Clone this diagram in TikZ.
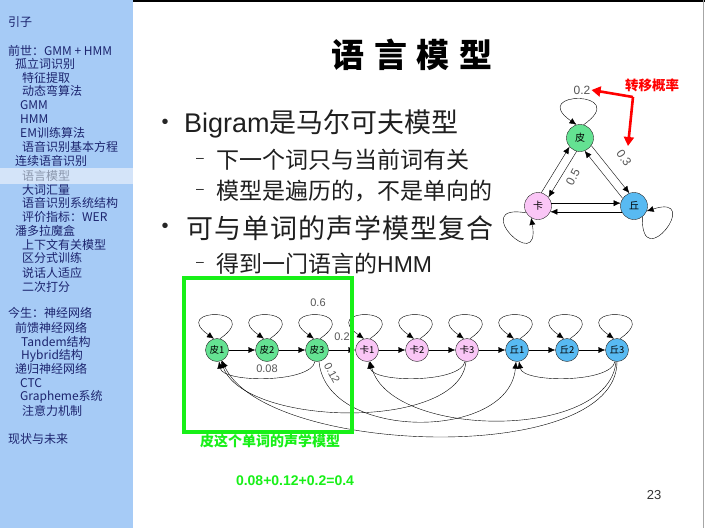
\documentclass[tikz,border=0pt]{standalone}
\usepackage{fontspec}
\setmainfont{Noto Sans CJK SC}
\newfontfamily\arialfont{Liberation Sans}
\usepackage{tikz}
\usetikzlibrary{arrows.meta, positioning}

\definecolor{sideblue}{RGB}{166,203,246}
\definecolor{sidehl}{RGB}{212,228,249}
\definecolor{sidetext}{RGB}{28,36,110}
\definecolor{hltext}{RGB}{138,150,172}
\definecolor{pigreen}{RGB}{100,226,146}
\definecolor{kapink}{RGB}{250,198,246}
\definecolor{qiublue}{RGB}{88,186,242}
\definecolor{boxgreen}{RGB}{24,240,24}
\definecolor{probgray}{RGB}{85,85,85}

\tikzset{
  side/.style={anchor=west, inner sep=0pt, text=sidetext, font=\fontsize{12}{12}\selectfont},
  state/.style={circle, draw=black!85, minimum size=23pt, inner sep=0pt, font=\fontsize{9.5}{9.5}\selectfont},
  word/.style={circle, draw=black!85, minimum size=27pt, inner sep=0pt, font=\fontsize{10}{10}\selectfont},
  prob/.style={inner sep=1pt, text=probgray, font=\arialfont\fontsize{11}{11}\selectfont},
  bulletdot/.style={inner sep=0pt, text=black!85, font=\arialfont\fontsize{20}{20}\selectfont},
  dashmark/.style={inner sep=0pt, text=black!85, font=\arialfont\fontsize{14}{14}\selectfont},
  bigline/.style={anchor=west, inner sep=0pt, text=black!88, font=\fontsize{27}{27}\selectfont},
  smallline/.style={anchor=west, inner sep=0pt, text=black!88, font=\fontsize{23}{23}\selectfont},
}

\begin{document}
\begin{tikzpicture}[x=1pt, y=-1pt, >={Latex[length=7pt,width=6pt]}]
\useasboundingbox (0,0) rectangle (705,528);
\fill [white] (0,0) rectangle (705,528);

% sidebar
\fill [sideblue] (0,0) rectangle (133,528);
\fill [sidehl] (0,168) rectangle (133,184);
\draw [black, line width=1.5pt] (133,0.75) -- (705,0.75);
\draw [black!35] (703,0) -- (703,528);

\node [side] (s1) at (8,22) {引子};
\node [side] (s2) at (8,51) {前世：GMM + HMM};
\node [side] (s3) at (15,64) {孤立词识别};
\node [side] (s4) at (22,78) {特征提取};
\node [side] (s5) at (22,91) {动态弯算法};
\node [side] (s6) at (20,105) {GMM};
\node [side] (s7) at (20,119) {HMM};
\node [side] (s8) at (20,133) {EM训练算法};
\node [side] (s9) at (22,147) {语音识别基本方程};
\node [side] (s10) at (15,161) {连续语音识别};
\node [side, text=hltext] (s11) at (22,176) {语言模型};
\node [side] (s12) at (22,190) {大词汇量};
\node [side] (s13) at (22,203) {语音识别系统结构};
\node [side] (s14) at (22,217) {评价指标：WER};
\node [side] (s15) at (15,231) {潘多拉魔盒};
\node [side] (s16) at (22,245) {上下文有关模型};
\node [side] (s17) at (22,258) {区分式训练};
\node [side] (s18) at (22,273) {说话人适应};
\node [side] (s19) at (22,287) {二次打分};
\node [side] (s20) at (8,313) {今生：神经网络};
\node [side] (s21) at (15,328) {前馈神经网络};
\node [side] (s22) at (21,342) {Tandem结构};
\node [side] (s23) at (21,356) {Hybrid结构};
\node [side] (s24) at (15,369) {递归神经网络};
\node [side] (s25) at (20,383) {CTC};
\node [side] (s26) at (20,397) {Grapheme系统};
\node [side] (s27) at (22,411) {注意力机制};
\node [side] (s28) at (8,439) {现状与未来};

% title and bullets
\node [font={\bfseries\fontsize{33}{33}\selectfont\addfontfeature{LetterSpace=30}}] (title) at (412,55) {语言模型};

\node [bulletdot] (dot1) at (165,124) {•};
\node [bigline] (b1) at (184,124) {{\arialfont Bigram}是马尔可夫模型};
\node [dashmark] (dash1) at (200,160) {–};
\node [smallline] (b2) at (216,160) {下一个词只与当前词有关};
\node [dashmark] (dash2) at (200,191) {–};
\node [smallline] (b3) at (216,191) {模型是遍历的，不是单向的};
\node [bulletdot] (dot2) at (165,228) {•};
\node [bigline, font={\fontsize{27}{27}\selectfont\addfontfeature{LetterSpace=4}}] (b4) at (186,228) {可与单词的声学模型复合};
\node [dashmark] (dash3) at (200,264) {–};
\node [smallline] (b5) at (216,264) {得到一门语言的{\arialfont HMM}};

% word graph
\node [word, fill=pigreen] (tp) at (580,138) {皮};
\node [word, fill=kapink] (tk) at (538,206) {卡};
\node [word, fill=qiublue] (tq) at (634,206) {丘};

\draw [->] (tp.75) to[out=35, in=145, distance=60pt] (tp.105);
\draw [->] (tk.210) to[out=170, in=280, distance=60pt] (tk.240);
\draw [->] (tq.308) to[out=268, in=18, distance=60pt] (tq.338);

\draw [->] (tp.256) -- (tk.40);
\draw [->] (tk.76) -- (tp.220);
\draw [->] (tp.-34) -- (tq.110);
\draw [->] (tq.146) -- (tp.-70);
\draw [->] (tk.12) -- (tq.168);
\draw [->] (tq.205) -- (tk.-25);

\node [prob, font=\arialfont\fontsize{12}{12}\selectfont] (t02) at (582,90) {0.2};
\node [prob, font=\arialfont\fontsize{12}{12}\selectfont, rotate=-55] (t03) at (624,158) {0.3};
\node [prob, font=\arialfont\fontsize{12}{12}\selectfont, rotate=62] (t05) at (573,177) {0.5};

\node [text=red, font=\bfseries\fontsize{13.5}{14}\selectfont] (zyl) at (652,85) {转移概率};
\coordinate (redbend) at (633,97);
\coordinate (redtip) at (628,146);
\draw [red, line width=2.6pt, -{Triangle[length=9pt,width=10pt]}] (redbend) -- (t02.east);
\draw [red, line width=2.6pt, -{Triangle[length=9pt,width=10pt]}] (redbend) -- (redtip);

% state chain
\node [state, fill=pigreen] (p1) at (217,350) {皮1};
\node [state, fill=pigreen] (p2) at (267,350) {皮2};
\node [state, fill=pigreen] (p3) at (317,350) {皮3};
\node [state, fill=kapink] (k1) at (367,350) {卡1};
\node [state, fill=kapink] (k2) at (417,350) {卡2};
\node [state, fill=kapink] (k3) at (467,350) {卡3};
\node [state, fill=qiublue] (q1) at (517,350) {丘1};
\node [state, fill=qiublue] (q2) at (567,350) {丘2};
\node [state, fill=qiublue] (q3) at (617,350) {丘3};

\draw [->] (p1.75) to[out=35, in=145, distance=55pt] (p1.105);
\draw [->] (p2.75) to[out=35, in=145, distance=55pt] (p2.105);
\draw [->] (p3.75) to[out=35, in=145, distance=55pt] (p3.105);
\draw [->] (k1.75) to[out=35, in=145, distance=55pt] (k1.105);
\draw [->] (k2.75) to[out=35, in=145, distance=55pt] (k2.105);
\draw [->] (k3.75) to[out=35, in=145, distance=55pt] (k3.105);
\draw [->] (q1.75) to[out=35, in=145, distance=55pt] (q1.105);
\draw [->] (q2.75) to[out=35, in=145, distance=55pt] (q2.105);
\draw [->] (q3.75) to[out=35, in=145, distance=55pt] (q3.105);

\draw [->] (p1) -- (p2);
\draw [->] (p2) -- (p3);
\draw [->] (p3) -- (k1);
\draw [->] (k1) -- (k2);
\draw [->] (k2) -- (k3);
\draw [->] (k3) -- (q1);
\draw [->] (q1) -- (q2);
\draw [->] (q2) -- (q3);

\draw [->] (p3.-100) to[out=-100, in=-80, distance=22pt] (p1.-80);
\draw [->] (p3.-80) to[out=-85, in=-95, distance=80pt] (q1.-95);
\draw [->] (k3.-100) to[out=-100, in=-80, distance=22pt] (k1.-80);
\draw [->] (k3.-95) to[out=-95, in=-70, distance=70pt] (p1.-70);
\draw [->] (q3.-100) to[out=-100, in=-80, distance=22pt] (q1.-80);
\draw [->] (q3.-95) to[out=-95, in=-75, distance=80pt] (k1.-75);
\draw [->] (q3.-90) to[out=-90, in=-65, distance=105pt] (p1.-65);

\node [prob] (c06) at (318,303) {0.6};
\node [prob] (c02) at (342,337) {0.2};
\node [prob] (c008) at (267,369) {0.08};
\node [prob, rotate=-62] (c012) at (332,373) {0.12};

% the acoustic model of one word
\node [draw=boxgreen, line width=3.3pt, minimum width=168pt, minimum height=154pt, inner sep=0pt] (wordbox) at (268,355) {};
\node [text=boxgreen, font=\bfseries\fontsize{14}{14}\selectfont] (boxcap) at (270,441) {皮这个单词的声学模型};
\node [text=boxgreen, font=\arialfont\bfseries\fontsize{14}{14}\selectfont] (psum) at (295,481) {0.08+0.12+0.2=0.4};

\node [text=black!80, font=\arialfont\fontsize{13}{13}\selectfont] (pgno) at (654,495) {23};
\end{tikzpicture}
\end{document}
